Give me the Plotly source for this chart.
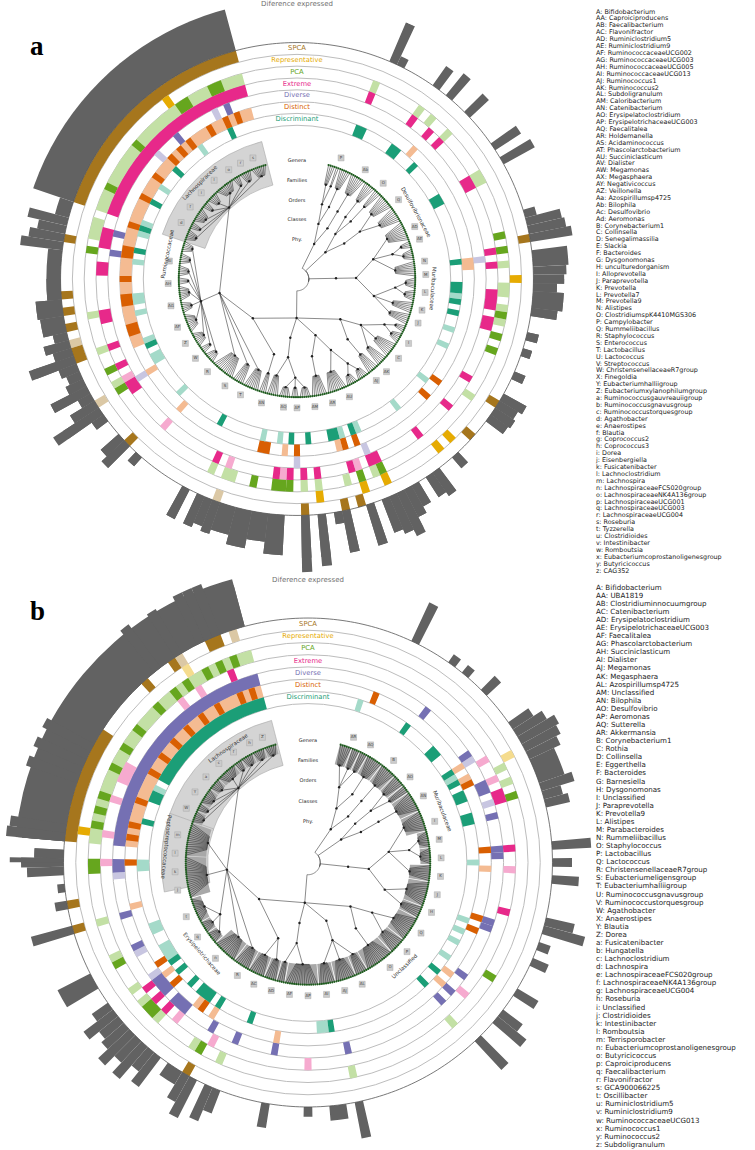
import numpy as np
import plotly.graph_objects as go

FIG_W, FIG_H = 755, 1150

# angular layout: ring / bar slots are 2 degrees wide, tree tips 1 degree apart
THETA0 = 16.0
STEP = 2.0
TIP0, TIP_STEP = 15.5, 1.0
LEVEL_R = [5.0, 16.5, 25.0, 33.3, 41.7, 46.0]   # root, phylum, class, order, family, genus
TIP_R = 50.0
LEVEL_NAMES = ["Phy.", "Classes", "Orders", "Families", "Genera"]
LEVEL_LABEL_R = [16.5, 25.0, 33.3, 41.7, 50.0]

RING_NAMES = ["SPCA", "Representative", "PCA", "Extreme", "Diverse", "Distinct", "Discriminant"]
RING_DARK = ["#a6761d", "#e6ab02", "#66a61e", "#e7298a", "#7570b3", "#d95f02", "#1b9e77"]
RING_LIGHT = ["#dbc8a5", "#f5dc8e", "#c3e0a5", "#f6aacf", "#c8c6e1", "#f4bb92", "#a4dac9"]
RING_OUT, RING_W = 100, 5
BAR_GREY = "#626262"

# ---------------- panel a data ----------------
# tree: phyla -> classes -> orders -> families (tip count, or list of genus tip counts)
TREE_A = [
    [[[4, 2], [6]], [[8]]],
    [[[6], [4]], [[8, 8]]],
    [[[10, [4, 6], 8], [[6, 6], 6, 6]]],
    [[[[4, 6], 8, 6], [6]], [[[6, 6], 10], [8]], [[[6, 4, 6], 6]],
     [[4], [8, 6, 12, [6, 4, 8, 10, 6, 8, 4, 6, 6, 6], [6, 4, 8, 4, 6, 10, 4, 6, 8]]]],
]
# "Diference expressed" bars: (first slot, last slot, height)
BARS_A = [(4, 4, 18), (5, 5, 4), (10, 10, 10), (12, 12, 12), (15, 15, 11), (20, 20, 13), (22, 22, 15),
          (29, 29, 5), (30, 30, 15), (31, 31, 16), (32, 32, 20), (34, 35, 15), (36, 36, 14), (37, 37, 13),
          (38, 38, 10), (39, 40, 13), (41, 41, 11), (44, 44, 5), (46, 46, 4), (49, 49, 5), (52, 52, 11),
          (53, 53, 9), (54, 54, 10), (55, 55, 9), (61, 61, 6), (64, 64, 12), (65, 65, 10), (67, 67, 10),
          (68, 68, 13), (69, 69, 20), (70, 70, 17), (71, 71, 15), (73, 73, 18), (76, 76, 18), (77, 77, 5),
          (79, 79, 22), (81, 81, 24), (84, 85, 17), (86, 87, 12), (88, 89, 16), (90, 91, 12), (92, 92, 14),
          (93, 93, 12), (94, 94, 14), (96, 96, 14), (103, 103, 5), (105, 105, 13), (106, 106, 10),
          (109, 109, 6), (110, 110, 23), (111, 111, 12), (112, 112, 6), (113, 113, 17), (114, 114, 8),
          (115, 115, 6), (116, 116, 8), (117, 117, 20), (118, 118, 8), (119, 119, 11), (120, 120, 6),
          (121, 122, 10), (123, 124, 11), (125, 130, 6), (131, 131, 20), (132, 132, 15), (133, 133, 12),
          (134, 134, 17), (135, 136, 6), (137, 164, 20)]
# ring segments: (first slot, last slot, 1 = strong / 0 = weak)
SPCA_A = [(137, 164, 1), (32, 32, 1), (53, 53, 1), (58, 58, 1), (74, 74, 1), (76, 76, 1), (81, 81, 1),
          (92, 92, 0), (105, 105, 1), (111, 111, 0), (117, 118, 1), (119, 119, 0), (121, 121, 1),
          (123, 123, 1), (125, 125, 1), (132, 132, 1)]
REPR_A = [(154, 154, 1), (37, 37, 1), (60, 60, 1), (62, 62, 1), (70, 70, 1), (73, 73, 1), (79, 79, 1)]
PCA_A = [(137, 164, 0), (140, 140, 1), (147, 147, 1), (155, 156, 1), (160, 161, 1), (133, 135, 0),
         (131, 131, 1), (122, 122, 0), (117, 117, 0), (114, 114, 1), (111, 111, 1), (112, 112, 0),
         (94, 94, 0), (91, 92, 0), (88, 88, 1), (84, 85, 1), (83, 83, 1), (81, 81, 0), (79, 79, 0),
         (75, 75, 0), (73, 73, 1), (70, 70, 1), (71, 71, 0), (22, 23, 0), (31, 31, 1), (33, 33, 1),
         (35, 35, 0), (38, 39, 0), (41, 41, 0), (42, 42, 1), (43, 43, 0), (10, 10, 0), (12, 12, 0),
         (15, 15, 0), (3, 3, 0), (45, 45, 1), (47, 47, 1), (54, 54, 0)]
EXTR_A = [(137, 164, 1), (132, 134, 1), (128, 129, 1), (121, 122, 1), (117, 117, 1), (114, 114, 1),
          (112, 112, 0), (110, 111, 1), (103, 103, 0), (94, 94, 1), (92, 92, 0), (85, 85, 1), (84, 84, 0),
          (83, 83, 1), (81, 81, 1), (79, 79, 1), (74, 74, 1), (73, 73, 0), (70, 71, 1), (63, 63, 1),
          (57, 57, 1), (52, 52, 1), (10, 10, 1), (13, 13, 1), (15, 15, 1), (22, 23, 1), (33, 33, 1),
          (35, 35, 1), (39, 41, 1), (43, 44, 1), (3, 3, 1)]
DIVE_A = [(161, 161, 1), (159, 159, 0), (152, 152, 1), (148, 148, 0), (134, 134, 1), (131, 131, 1),
          (111, 111, 0), (82, 82, 0), (71, 71, 0), (34, 34, 0)]
DIST_A = [(116, 164, 0), (162, 162, 1), (160, 160, 1), (157, 157, 1), (153, 153, 1), (151, 151, 1),
          (149, 149, 1), (145, 145, 1), (141, 141, 1), (136, 136, 1), (131, 132, 1), (127, 127, 1),
          (123, 124, 1), (118, 119, 1), (111, 111, 0), (103, 103, 0), (87, 88, 1), (84, 84, 0),
          (82, 82, 1), (75, 75, 0), (74, 74, 1), (72, 72, 1), (58, 58, 1), (13, 13, 0), (34, 35, 0),
          (55, 55, 1)]
DISC_A = [(160, 160, 1), (154, 154, 0), (148, 148, 1), (144, 144, 0), (141, 141, 1), (137, 137, 0),
          (136, 136, 1), (135, 135, 0), (132, 132, 1), (130, 130, 0), (123, 124, 0), (121, 121, 0),
          (116, 116, 0), (115, 115, 1), (112, 113, 0), (105, 105, 0), (96, 96, 1), (88, 88, 0),
          (85, 85, 0), (83, 83, 1), (80, 80, 1), (75, 76, 1), (74, 74, 0), (72, 72, 1), (71, 71, 0),
          (63, 63, 0), (56, 56, 0), (49, 49, 0), (3, 4, 1), (10, 11, 1), (15, 15, 1), (22, 23, 1),
          (34, 34, 1), (38, 39, 1), (40, 40, 0), (41, 41, 1), (43, 43, 1), (46, 46, 0)]
BOX_A = [(137, 164)]
TIPLAB_A = [(2, "P"), (8, "Ab"), (13, "O"), (18, "Q"), (25, "AD"), (28, "AE"), (33, "N"), (36, "M"),
            (40, "L"), (44, "K"), (47, "J"), (52, "I"), (56, "C"), (60, "AK"), (63, "AJ"), (70, "AU"),
            (74, "AR"), (78, "AM"), (82, "AP"), (85, "AQ"), (90, "AN"), (95, "T"), (99, "S"),
            (104, "R"), (108, "W"), (112, "Z"), (116, "AF"), (121, "AG"), (126, "AH"), (131, "AI"),
            (140, "d"), (144, "f"), (148, "i"), (152, "l"), (156, "o"), (159, "r"), (162, "s")]
FAMTXT_A = [("Lachnospiraceae", 149.5, 57.5, -45), ("Ruminococcaceae", 132.5, 56.0, -79),
            ("Muribaculaceae", 39.0, 57.5, 94), ("Desulfovibrionaceae", 22.5, 58.0, 61)]

LEG_A = ["A: Bifidobacterium", "AA: Caproiciproducens", "AB: Faecalibacterium", "AC: Flavonifractor",
         "AD: Ruminiclostridium5", "AE: Ruminiclostridium9", "AF: RuminococcaceaeUCG002",
         "AG: RuminococcaceaeUCG003", "AH: RuminococcaceaeUCG005", "AI: RuminococcaceaeUCG013",
         "AJ: Ruminococcus1", "AK: Ruminococcus2", "AL: Subdoligranulum", "AM: Caloribacterium",
         "AN: Catenibacterium", "AO: Erysipelatoclostridium", "AP: ErysipelotrichaceaeUCG003",
         "AQ: Faecalitalea", "AR: Holdemanella", "AS: Acidaminococcus", "AT: Phascolarctobacterium",
         "AU: Succiniclasticum", "AV: Dialister", "AW: Megamonas", "AX: Megasphaera",
         "AY: Negativicoccus", "AZ: Veillonella", "Aa: Azospirillumsp4725", "Ab: Bilophila",
         "Ac: Desulfovibrio", "Ad: Aeromonas", "B: Corynebacterium1", "C: Collinsella",
         "D: Senegalimassilia", "E: Slackia", "F: Bacteroides", "G: Dysgonomonas",
         "H: unculturedorganism", "I: Alloprevotella", "J: Paraprevotella", "K: Prevotella",
         "L: Prevotella7", "M: Prevotella9", "N: Alistipes", "O: ClostridiumspK4410MGS306",
         "P: Campylobacter", "Q: Rummeliibacillus", "R: Staphylococcus", "S: Enterococcus",
         "T: Lactobacillus", "U: Lactococcus", "V: Streptococcus", "W: ChristensenellaceaeR7group",
         "X: Finegoldia", "Y: Eubacteriumhalliigroup", "Z: Eubacteriumxylanophilumgroup",
         "a: Ruminococcusgauvreauiigroup", "b: Ruminococcusgnavusgroup", "c: Ruminococcustorquesgroup",
         "d: Agathobacter", "e: Anaerostipes", "f: Blautia", "g: Coprococcus2", "h: Coprococcus3",
         "i: Dorea", "j: Eisenbergiella", "k: Fusicatenibacter", "l: Lachnoclostridium",
         "m: Lachnospira", "n: LachnospiraceaeFCS020group", "o: LachnospiraceaeNK4A136group",
         "p: LachnospiraceaeUCG001", "q: LachnospiraceaeUCG003", "r: LachnospiraceaeUCG004",
         "s: Roseburia", "t: Tyzzerella", "u: Clostridioides", "v: Intestinibacter", "w: Romboutsia",
         "x: Eubacteriumcoprostanoligenesgroup", "y: Butyricicoccus", "z: CAG352"]

# ---------------- panel b data ----------------
TREE_B = [
    [[[6, 4, 4], [8]], [[8]]],
    [[[6, 4]], [[10]]],
    [[[10, [8, 8], 8], [12, 6]]],
    [[[12, 8], [14]], [[6, 10, 8]], [[16, 4]],
     [[6, 8], [8, 12, [6, 6, 12], 20, 16, [6, 4, 8, 6, 10, 4, 6, 6, 6]]]],
]
BARS_B = [(5, 5, 18), (10, 10, 4), (12, 12, 4), (15, 15, 8), (20, 20, 10), (21, 21, 14), (22, 22, 18),
          (23, 23, 16), (24, 24, 14), (25, 27, 11), (28, 28, 14), (29, 29, 8), (30, 30, 10), (35, 35, 16),
          (37, 37, 8), (39, 39, 11), (44, 44, 12), (45, 45, 18), (47, 47, 5), (49, 49, 7), (53, 53, 10),
          (56, 56, 10), (57, 57, 15), (60, 60, 16), (76, 76, 15), (78, 79, 6), (82, 82, 4), (87, 87, 10),
          (93, 93, 10), (94, 94, 15), (96, 96, 20), (97, 97, 12), (98, 99, 6), (101, 101, 15),
          (102, 102, 10), (103, 103, 19), (104, 104, 12), (105, 105, 20), (106, 106, 12), (107, 107, 10),
          (108, 108, 15), (109, 109, 8), (112, 113, 15), (119, 119, 20), (122, 122, 5), (124, 124, 3),
          (126, 126, 15), (127, 127, 22), (128, 128, 12), (130, 164, 20), (130, 130, 24), (131, 131, 23),
          (137, 137, 22), (139, 139, 22), (141, 141, 22), (153, 153, 22), (156, 156, 21), (159, 159, 22),
          (160, 160, 22), (161, 161, 22)]
SPCA_B = [(130, 143, 1), (160, 161, 1), (155, 155, 1), (151, 151, 1), (163, 163, 0), (156, 156, 0),
          (122, 122, 1), (119, 119, 1), (97, 97, 1)]
REPR_B = [(131, 131, 1), (156, 156, 0), (23, 23, 0)]
PCA_B = [(130, 164, 0), (162, 162, 1), (160, 160, 1), (158, 158, 1), (155, 155, 1), (153, 153, 1),
         (150, 150, 1), (146, 146, 1), (143, 143, 1), (140, 140, 1), (136, 136, 1), (134, 134, 1),
         (132, 132, 1), (126, 127, 1), (119, 119, 0), (114, 114, 0), (113, 113, 1), (109, 109, 0),
         (107, 107, 0), (105, 106, 1), (104, 104, 0), (98, 98, 0), (97, 97, 1), (94, 94, 0),
         (76, 76, 0), (61, 61, 0), (53, 53, 1), (28, 28, 1), (24, 24, 0), (26, 26, 0)]
EXTR_B = [(161, 161, 1), (156, 156, 0), (153, 153, 0), (139, 141, 0), (136, 136, 0), (131, 131, 0),
          (127, 127, 0), (108, 108, 1), (106, 106, 1), (104, 104, 1), (102, 102, 0), (96, 96, 0),
          (82, 82, 0), (57, 57, 0), (44, 44, 1), (38, 38, 0), (35, 35, 1), (22, 22, 0), (25, 25, 0),
          (27, 28, 1)]
DIVE_B = [(130, 164, 1), (126, 127, 1), (125, 125, 0), (119, 119, 1), (114, 114, 1), (113, 113, 0),
          (109, 109, 0), (106, 108, 1), (102, 104, 1), (97, 97, 1), (93, 93, 1), (87, 87, 1), (76, 76, 1),
          (60, 60, 1), (58, 58, 1), (47, 47, 1), (36, 36, 1), (11, 11, 1), (20, 20, 1), (21, 21, 0),
          (25, 26, 1), (28, 28, 0), (30, 30, 1), (35, 35, 1), (46, 46, 1), (55, 55, 1)]
DIST_B = [(130, 164, 0), (163, 163, 1), (161, 161, 1), (157, 157, 1), (154, 154, 1), (151, 151, 1),
          (148, 148, 1), (145, 145, 1), (142, 142, 1), (137, 137, 1), (133, 133, 1), (131, 131, 1),
          (127, 127, 1), (120, 120, 0), (110, 110, 1), (108, 108, 0), (106, 106, 1), (101, 101, 0),
          (100, 100, 1), (98, 98, 0), (87, 87, 0), (38, 38, 0), (35, 35, 1), (48, 48, 1), (58, 58, 0),
          (3, 3, 1), (21, 21, 0), (23, 23, 0), (24, 24, 1), (46, 46, 1), (56, 56, 0)]
DISC_B = [(142, 164, 1), (140, 140, 0), (138, 139, 1), (134, 134, 1), (126, 127, 0), (115, 116, 0),
          (109, 112, 0), (109, 109, 1), (107, 107, 1), (104, 104, 1), (100, 102, 1), (98, 98, 1),
          (92, 92, 1), (79, 80, 0), (78, 78, 1), (60, 60, 1), (57, 57, 1), (54, 54, 0), (51, 51, 0),
          (49, 49, 0), (47, 47, 0), (37, 37, 0), (1, 1, 0), (10, 10, 1), (16, 17, 1), (21, 21, 1),
          (22, 22, 0), (23, 23, 1), (25, 26, 1), (29, 30, 1)]
BOX_B = [(137, 164), (122, 136)]
TIPLAB_B = [(2, "AR"), (6, "AQ"), (12, "B"), (17, "AO"), (22, "AN"), (28, "I"), (32, "M"), (36, "L"),
            (40, "K"), (44, "J"), (48, "H"), (53, "Q"), (58, "P"), (63, "O"), (70, "AL"), (74, "AJ"),
            (78, "AI"), (82, "AP"), (86, "AF"), (90, "AD"), (94, "AC"), (98, "R"), (104, "n"),
            (110, "q"), (115, "t"), (121, "j"), (125, "k"), (129, "l"), (133, "m"), (139, "W"),
            (143, "Y"), (147, "a"), (151, "c"), (155, "f"), (159, "h"), (162, "Z")]
FAMTXT_B = [("Lachnospiraceae", 154.5, 57.0, -35), ("Peptostreptococcaceae", 130.0, 58.5, 96),
            ("Erysipelotrichaceae", 106.5, 57.5, 49), ("Unclassified", 60.5, 58.0, -43),
            ("Muribaculaceae", 26.5, 59.0, 69)]

LEG_B = ["A: Bifidobacterium", "AA: UBA1819", "AB: Clostridiuminnocuumgroup", "AC: Catenibacterium",
         "AD: Erysipelatoclostridium", "AE: ErysipelotrichaceaeUCG003", "AF: Faecalitalea",
         "AG: Phascolarctobacterium", "AH: Succiniclasticum", "AI: Dialister", "AJ: Megamonas",
         "AK: Megasphaera", "AL: Azospirillumsp4725", "AM: Unclassified", "AN: Bilophila",
         "AO: Desulfovibrio", "AP: Aeromonas", "AQ: Sutterella", "AR: Akkermansia",
         "B: Corynebacterium1", "C: Rothia", "D: Collinsella", "E: Eggerthella", "F: Bacteroides",
         "G: Barnesiella", "H: Dysgonomonas", "I: Unclassified", "J: Paraprevotella", "K: Prevotella9",
         "L: Alistipes", "M: Parabacteroides", "N: Rummeliibacillus", "O: Staphylococcus",
         "P: Lactobacillus", "Q: Lactococcus", "R: ChristensenellaceaeR7group",
         "S: Eubacteriumeligensgroup", "T: Eubacteriumhalliigroup", "U: Ruminococcusgnavusgroup",
         "V: Ruminococcustorquesgroup", "W: Agathobacter", "X: Anaerostipes", "Y: Blautia", "Z: Dorea",
         "a: Fusicatenibacter", "b: Hungatella", "c: Lachnoclostridium", "d: Lachnospira",
         "e: LachnospiraceaeFCS020group", "f: LachnospiraceaeNK4A136group", "g: LachnospiraceaeUCG004",
         "h: Roseburia", "i: Unclassified", "j: Clostridioides", "k: Intestinibacter", "l: Romboutsia",
         "m: Terrisporobacter", "n: Eubacteriumcoprostanoligenesgroup", "o: Butyricicoccus",
         "p: Caproiciproducens", "q: Faecalibacterium", "r: Flavonifractor", "s: GCA900066225",
         "t: Oscillibacter", "u: Ruminiclostridium5", "v: Ruminiclostridium9",
         "w: RuminococcaceaeUCG013", "x: Ruminococcus1", "y: Ruminococcus2", "z: Subdoligranulum"]

# panel geometry in pixels: centre, drawable radius, radial range.
# ext = extra sector (name, sector, radius px, unit bbox) so long bars are not cut at the main radius
PANELS = [
    dict(name="a", polar="polar", cx=297, cy=279, rpx=279, rmax=118.0, tree=TREE_A, bars=BARS_A,
         rings=[SPCA_A, REPR_A, PCA_A, EXTR_A, DIVE_A, DIST_A, DISC_A], boxes=BOX_A, tiplab=TIPLAB_A,
         famtxt=FAMTXT_A, wedges=False, leg=LEG_A, leg_top=12, leg_bot=571, leg_size=6.4,
         xa="x", ya="y", title_r=116.0, letter=(37, 46),
         ext=("polar3", [180, 360], 296, (-1, 1, -1, 0))),
    dict(name="b", polar="polar2", cx=308, cy=862.5, rpx=287, rmax=117.4, tree=TREE_B, bars=BARS_B,
         rings=[SPCA_B, REPR_B, PCA_B, EXTR_B, DIVE_B, DIST_B, DISC_B], boxes=BOX_B, tiplab=TIPLAB_B,
         famtxt=FAMTXT_B, wedges=True, leg=LEG_B, leg_top=588, leg_bot=1145, leg_size=7.1,
         xa="x2", ya="y2", title_r=115.5, letter=(37, 611),
         ext=("polar4", [90, 180], 305, (-1, 0, 0, 1))),
]

HIDDEN_ANG = dict(rotation=90, direction="clockwise", showgrid=False, showline=False,
                  showticklabels=False, ticks="")


def slot_theta(i):
    return THETA0 + STEP * i


def span(s, e):
    return slot_theta((s + e) / 2.0), STEP * (e - s + 1)


def tree_layout(tree):
    seg_r, seg_t, node_r, node_t, tip_t, fans = [], [], [], [], [], []
    pos = [0]

    def arc(r, t0, t1):
        n = int(abs(t1 - t0)) + 2
        return [r] * n, list(np.linspace(t0, t1, n))

    def walk(node, depth):
        rn = LEVEL_R[depth]
        if isinstance(node, int):
            i0 = pos[0]
            pos[0] += node
            ts = [TIP0 + TIP_STEP * i for i in range(i0, i0 + node)]
            tf = (ts[0] + ts[-1]) / 2
            fans.append((ts[0], ts[-1], rn))
            if node > 1:
                ar, at = arc(rn, tf + 0.5 * (ts[0] - tf), tf + 0.5 * (ts[-1] - tf))
                seg_r.extend(ar + [None])
                seg_t.extend(at + [None])
            for t in ts:
                seg_r.extend([rn, TIP_R, None])
                seg_t.extend([tf + 0.5 * (t - tf), t, None])
                tip_t.append(t)
            node_r.append(rn)
            node_t.append(tf)
            return tf
        kids = [walk(c, depth + 1) for c in node]
        tp = (kids[0] + kids[-1]) / 2
        rc = LEVEL_R[depth + 1]
        for tc in kids:
            if depth == 0:
                ar, at = arc(rn, tp, tc)
                seg_r.extend(ar + [rc, None])
                seg_t.extend(at + [tc, None])
            else:
                seg_r.extend([rn, rc, None])
                seg_t.extend([tp, tc, None])
        if depth > 0:
            node_r.append(rn)
            node_t.append(tp)
        return tp

    walk(tree, 0)
    return seg_r, seg_t, node_r, node_t, tip_t, fans


fig = go.Figure()
annotations = []

for p in PANELS:
    sub = p["polar"]
    ppu = p["rpx"] / p["rmax"]

    # highlighted clades (grey boxes)
    for s, e in p["boxes"]:
        t, w = span(s - 0.3, e + 0.3)
        fig.add_trace(go.Barpolar(r=[19], theta=[t], width=[w], base=41, subplot=sub,
                                  marker=dict(color="#d4d4d4", line=dict(color="#a8a8a8", width=0.6)),
                                  showlegend=False, hoverinfo="skip"))

    seg_r, seg_t, node_r, node_t, tip_t, fans = tree_layout(p["tree"])

    if p["wedges"]:
        wt, ww, wb = [], [], []
        for t0, t1, rn in fans:
            if t1 - t0 >= 3:
                wt.append((t0 + t1) / 2)
                ww.append(t1 - t0 + 0.6)
                wb.append(rn)
        fig.add_trace(go.Barpolar(r=[TIP_R - b for b in wb], theta=wt, width=ww, base=wb, subplot=sub,
                                  marker=dict(color="#a8a8a8", line=dict(width=0)),
                                  showlegend=False, hoverinfo="skip"))

    # outer bars
    bt, bw, bh = [], [], []
    for s, e, h in p["bars"]:
        t, w = span(s, e)
        bt.append(t)
        bw.append(w)
        bh.append(h)
    for bs in (sub, p["ext"][0]):
        fig.add_trace(go.Barpolar(r=bh, theta=bt, width=bw, base=RING_OUT, subplot=bs,
                                  marker=dict(color=BAR_GREY, line=dict(width=0)),
                                  showlegend=False, hoverinfo="skip"))

    # rings: weak first, strong on top
    for k, segs in enumerate(p["rings"]):
        base = RING_OUT - RING_W * (k + 1)
        for level, col in ((0, RING_LIGHT[k]), (1, RING_DARK[k])):
            st, sw = [], []
            for s, e, lv in segs:
                if lv == level:
                    t, w = span(s, e)
                    st.append(t)
                    sw.append(w)
            if st:
                fig.add_trace(go.Barpolar(r=[RING_W] * len(st), theta=st, width=sw, base=base,
                                          subplot=sub, marker=dict(color=col, line=dict(width=0)),
                                          showlegend=False, hoverinfo="skip"))

    # outer circle
    circ = list(np.linspace(0, 360, 361))
    fig.add_trace(go.Scatterpolar(r=[RING_OUT] * len(circ), theta=circ, mode="lines", subplot=sub,
                                  line=dict(color="#555555", width=0.8), showlegend=False,
                                  hoverinfo="skip"))

    # tree
    fig.add_trace(go.Scatterpolar(r=seg_r, theta=seg_t, mode="lines", subplot=sub,
                                  line=dict(color="#2a2a2a", width=0.55), showlegend=False,
                                  hoverinfo="skip", connectgaps=False))
    fig.add_trace(go.Scatterpolar(r=node_r, theta=node_t, mode="markers", subplot=sub,
                                  marker=dict(color="#202020", size=2.4), showlegend=False,
                                  hoverinfo="skip"))
    fig.add_trace(go.Scatterpolar(r=[TIP_R] * len(tip_t), theta=tip_t, mode="markers", subplot=sub,
                                  marker=dict(color="#1d5a1d", size=2.2), showlegend=False,
                                  hoverinfo="skip"))

    # tip label boxes
    lt = [slot_theta(i) for i, _ in p["tiplab"]]
    fig.add_trace(go.Scatterpolar(r=[54.5] * len(lt), theta=lt, mode="markers+text", subplot=sub,
                                  text=[s for _, s in p["tiplab"]], textposition="middle center",
                                  textfont=dict(size=4, color="#444444", family="DejaVu Sans"),
                                  marker=dict(symbol="square", size=6, color="#cccccc",
                                              line=dict(color="#a0a0a0", width=0.4)),
                                  showlegend=False, hoverinfo="skip", cliponaxis=False))

    # level names
    fig.add_trace(go.Scatterpolar(r=LEVEL_LABEL_R, theta=[0] * 5, mode="text", text=LEVEL_NAMES,
                                  subplot=sub, textfont=dict(size=5, color="#222222", family="DejaVu Sans"),
                                  showlegend=False, hoverinfo="skip", cliponaxis=False))
    # ring names
    fig.add_trace(go.Scatterpolar(r=[RING_OUT - RING_W * (k + 0.5) for k in range(7)], theta=[0] * 7,
                                  mode="text", text=RING_NAMES, subplot=sub,
                                  textfont=dict(size=6.8, color=RING_DARK, family="DejaVu Sans"),
                                  showlegend=False, hoverinfo="skip", cliponaxis=False))
    fig.add_trace(go.Scatterpolar(r=[p["title_r"]], theta=[0], mode="text", text=["Diference expressed"],
                                  subplot=sub, textfont=dict(size=7, color="#707070", family="DejaVu Sans"),
                                  showlegend=False, hoverinfo="skip", cliponaxis=False))

    # family names (rotated) as annotations
    for txt, idx, r, ang in p["famtxt"]:
        th = np.radians(slot_theta(idx))
        xp = p["cx"] + r * ppu * np.sin(th)
        yp = p["cy"] - r * ppu * np.cos(th)
        annotations.append(dict(x=xp / FIG_W, y=1 - yp / FIG_H, xref="paper", yref="paper", text=txt,
                                showarrow=False, textangle=ang, xanchor="center", yanchor="middle",
                                font=dict(size=5.5, color="#333333", family="DejaVu Sans")))

    # panel letter
    lx, ly = p["letter"]
    annotations.append(dict(x=lx / FIG_W, y=1 - ly / FIG_H, xref="paper", yref="paper",
                            text="<b>%s</b>" % p["name"], showarrow=False, xanchor="center",
                            yanchor="middle", font=dict(size=27, color="#000000", family="Liberation Serif")))

    # legend list
    n = len(p["leg"])
    gap = (p["leg_bot"] - p["leg_top"]) / (n - 1)
    top_px = p["leg_top"] - gap / 2
    bot_px = p["leg_bot"] + gap / 2
    fig.add_trace(go.Scatter(x=[0] * n, y=list(range(n)), mode="text", text=p["leg"],
                             textposition="middle right", xaxis=p["xa"], yaxis=p["ya"],
                             textfont=dict(size=p["leg_size"], color="#1a1a1a", family="DejaVu Sans"),
                             showlegend=False, hoverinfo="skip", cliponaxis=False))

    pol = dict(
        domain=dict(x=[(p["cx"] - p["rpx"]) / FIG_W, (p["cx"] + p["rpx"]) / FIG_W],
                    y=[max(0, 1 - (p["cy"] + p["rpx"]) / FIG_H), min(1, 1 - (p["cy"] - p["rpx"]) / FIG_H)]),
        bgcolor="rgba(0,0,0,0)",
        angularaxis=HIDDEN_ANG,
        radialaxis=dict(range=[0, p["rmax"]], tickvals=[65, 70, 75, 80, 85, 90, 95], showgrid=True,
                        gridcolor="#bdbdbd", gridwidth=0.7, showline=False, showticklabels=False,
                        ticks=""),
    )
    lay = {sub: pol}
    ek, esec, er, (bx0, bx1, by0, by1) = p["ext"]
    lay[ek] = dict(
        sector=esec,
        domain=dict(x=[(p["cx"] + er * bx0) / FIG_W, (p["cx"] + er * bx1) / FIG_W],
                    y=[1 - (p["cy"] - er * by0) / FIG_H, 1 - (p["cy"] - er * by1) / FIG_H]),
        bgcolor="rgba(0,0,0,0)",
        angularaxis=HIDDEN_ANG,
        radialaxis=dict(range=[0, er / ppu], showgrid=False, showline=False, showticklabels=False,
                        ticks=""),
    )
    xk = "xaxis" if p["xa"] == "x" else "xaxis2"
    yk = "yaxis" if p["ya"] == "y" else "yaxis2"
    lay[xk] = dict(domain=[596 / FIG_W, 1], range=[0, 1], visible=False, fixedrange=True)
    lay[yk] = dict(domain=[1 - bot_px / FIG_H, 1 - top_px / FIG_H], range=[n - 0.5, -0.5], visible=False,
                   fixedrange=True)
    fig.update_layout(**lay)

fig.update_layout(width=FIG_W, height=FIG_H, margin=dict(l=0, r=0, t=0, b=0),
                  paper_bgcolor="white", plot_bgcolor="white", showlegend=False,
                  annotations=annotations, font=dict(family="DejaVu Sans"))

# the page body has a default 8px margin; remove it so the figure fills the window exactly
fig.write_html("out.html", config={"displayModeBar": False},
               post_script="document.body.style.margin='0px';")
